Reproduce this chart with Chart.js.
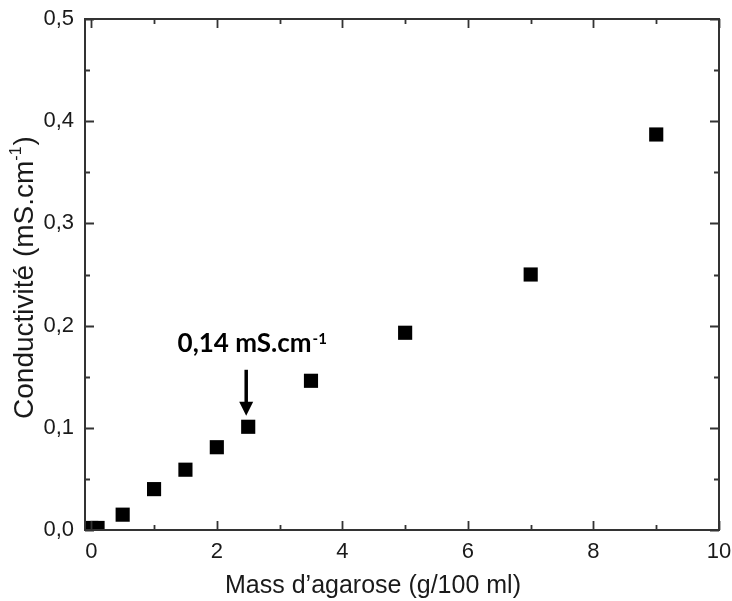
<!DOCTYPE html>
<html>
<head>
<meta charset="utf-8">
<script src="https://cdn.jsdelivr.net/npm/chart.js@4"></script>
<style>
  html, body { margin: 0; padding: 0; background: #ffffff; }
  #wrap { width: 732px; height: 601px; position: relative; }
</style>
</head>
<body>
<div id="wrap"><canvas id="c" width="732" height="601"></canvas></div>
<script>
// ---- data ----
const xValues = [0, 0.1, 0.5, 1, 1.5, 2, 2.5, 3.5, 5, 7, 9];
const yValues = [0.002, 0.002, 0.015, 0.040, 0.059, 0.081, 0.101, 0.146, 0.193, 0.250, 0.387];

const xTickValues = [0, 2, 4, 6, 8, 10];
const xTickLabels = ['0', '2', '4', '6', '8', '10'];
const xMinorTicks = [1, 3, 5, 7, 9];

const yTickValues = [0, 0.1, 0.2, 0.3, 0.4, 0.5];
const yTickLabels = ['0,0', '0,1', '0,2', '0,3', '0,4', '0,5'];
const yMinorTicks = [0.05, 0.15, 0.25, 0.35, 0.45];

const xTitle = 'Mass d\u2019agarose (g/100 ml)';
const yTitleMain = 'Conductivit\u00e9 (mS.cm';
const yTitleSup = '-1';
const yTitleEnd = ')';
const annotationMain = '0,14 mS.cm';
const annotationSup = '-1';
const annotationPointX = 2.5;

const points = xValues.map((x, i) => ({ x: x, y: yValues[i] }));

const frameColor = '#333333';
const textColor = '#1a1a1a';

const framePlugin = {
  id: 'framePlugin',
  afterDatasetsDraw(chart) {
    const ctx = chart.ctx;
    const a = chart.chartArea;
    const xs = chart.scales.x, ys = chart.scales.y;
    ctx.save();
    // frame
    ctx.strokeStyle = frameColor;
    ctx.lineWidth = 2;
    ctx.strokeRect(a.left, a.top, a.right - a.left, a.bottom - a.top);
    // ticks (inward, mirrored)
    ctx.lineWidth = 1.8;
    const major = 9, minor = 5;
    function xt(v, len) {
      const px = Math.round(xs.getPixelForValue(v)) + 0.5;
      ctx.beginPath();
      ctx.moveTo(px, a.bottom); ctx.lineTo(px, a.bottom - len);
      ctx.moveTo(px, a.top); ctx.lineTo(px, a.top + len);
      ctx.stroke();
    }
    function yt(v, len) {
      const py = Math.round(ys.getPixelForValue(v)) + 0.5;
      ctx.beginPath();
      ctx.moveTo(a.left, py); ctx.lineTo(a.left + len, py);
      ctx.moveTo(a.right, py); ctx.lineTo(a.right - len, py);
      ctx.stroke();
    }
    xTickValues.forEach(v => xt(v, major));
    xMinorTicks.forEach(v => xt(v, minor));
    yTickValues.forEach(v => yt(v, major));
    yMinorTicks.forEach(v => yt(v, minor));

    // x title
    ctx.fillStyle = textColor;
    ctx.font = '25px "Liberation Sans", Arial, sans-serif';
    ctx.textAlign = 'center';
    ctx.textBaseline = 'alphabetic';
    ctx.fillText(xTitle, 373, 593);

    // y title (rotated) with superscript
    ctx.save();
    ctx.translate(33, 278);
    ctx.rotate(-Math.PI / 2);
    const fMain = '28px "Liberation Sans", Arial, sans-serif';
    const fSup = '16px "Liberation Sans", Arial, sans-serif';
    ctx.font = fMain;
    const w1 = ctx.measureText(yTitleMain).width;
    const w3 = ctx.measureText(yTitleEnd).width;
    ctx.font = fSup;
    const w2 = ctx.measureText(yTitleSup).width;
    let sx = -(w1 + w2 + w3) / 2;
    ctx.textAlign = 'left';
    ctx.font = fMain;
    ctx.fillText(yTitleMain, sx, 0);
    ctx.font = fSup;
    ctx.fillText(yTitleSup, sx + w1, -12);
    ctx.font = fMain;
    ctx.fillText(yTitleEnd, sx + w1 + w2 + 1, 0);
    ctx.restore();

    // annotation
    const ax = xs.getPixelForValue(annotationPointX) - 2;
    const ay = ys.getPixelForValue(yValues[xValues.indexOf(annotationPointX)]);
    const tipY = ay - 11;
    const startY = ay - 57;
    ctx.fillStyle = '#000';
    ctx.strokeStyle = '#000';
    ctx.lineWidth = 3.5;
    ctx.beginPath();
    ctx.moveTo(ax, startY);
    ctx.lineTo(ax, tipY - 12);
    ctx.stroke();
    ctx.beginPath();
    ctx.moveTo(ax - 7, tipY - 14);
    ctx.lineTo(ax + 7, tipY - 14);
    ctx.lineTo(ax, tipY);
    ctx.closePath();
    ctx.fill();

    const aMain = 'bold 26px Lato, "Open Sans", sans-serif';
    const aSup = 'bold 15px Lato, "Open Sans", sans-serif';
    ctx.font = aMain;
    const tw1 = ctx.measureText(annotationMain).width;
    ctx.font = aSup;
    const tw2 = ctx.measureText(annotationSup).width;
    const tx = ax + 6 - (tw1 + tw2 + 1) / 2;
    const ty = ay - 75;
    ctx.textAlign = 'left';
    ctx.font = aMain;
    ctx.fillText(annotationMain, tx, ty);
    ctx.font = aSup;
    ctx.fillText(annotationSup, tx + tw1 + 1, ty - 8);
    ctx.restore();
  }
};

new Chart(document.getElementById('c'), {
  type: 'scatter',
  data: {
    datasets: [{
      data: points,
      pointStyle: 'rect',
      pointRadius: 10,
      pointHoverRadius: 10,
      backgroundColor: '#000000',
      borderColor: '#000000',
      borderWidth: 0,
      clip: 0
    }]
  },
  options: {
    responsive: false,
    animation: false,
    events: [],
    layout: { padding: { left: 0, right: 13, top: 19, bottom: 0 } },
    plugins: { legend: { display: false }, tooltip: { enabled: false } },
    scales: {
      x: {
        type: 'linear',
        min: -0.1,
        max: 10,
        afterFit(s) { s.height = 71; s.paddingLeft = 0; s.paddingRight = 0; },
        afterBuildTicks(s) { s.ticks = xTickValues.map(v => ({ value: v })); },
        grid: { display: false, drawTicks: false },
        border: { display: false },
        ticks: {
          padding: 9,
          color: textColor,
          font: { family: '"Liberation Sans", Arial, sans-serif', size: 22 },
          callback(v) { const i = xTickValues.indexOf(v); return i >= 0 ? xTickLabels[i] : ''; }
        }
      },
      y: {
        type: 'linear',
        min: 0,
        max: 0.5,
        afterFit(s) { s.width = 85; s.paddingTop = 0; s.paddingBottom = 0; },
        afterBuildTicks(s) { s.ticks = yTickValues.map(v => ({ value: v })); },
        grid: { display: false, drawTicks: false },
        border: { display: false },
        ticks: {
          padding: 11,
          color: textColor,
          font: { family: '"Liberation Sans", Arial, sans-serif', size: 22 },
          callback(v) {
            const i = yTickValues.findIndex(t => Math.abs(t - v) < 1e-9);
            return i >= 0 ? yTickLabels[i] : '';
          }
        }
      }
    }
  },
  plugins: [framePlugin]
});
</script>
</body>
</html>
